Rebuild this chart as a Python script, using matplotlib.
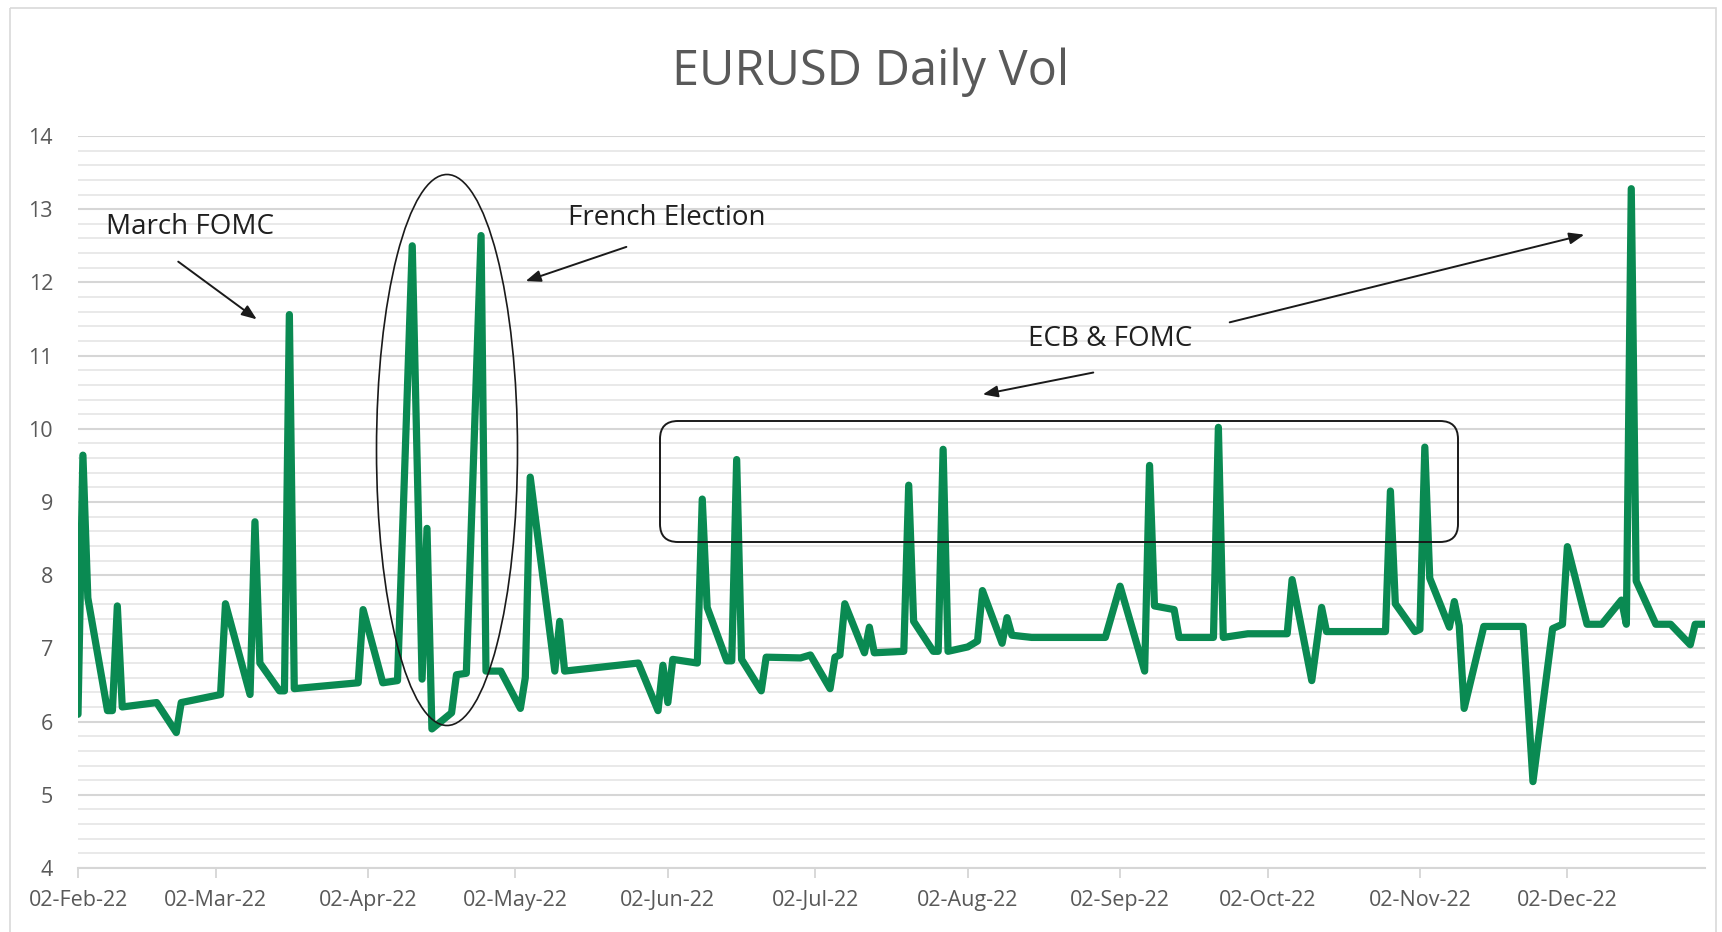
import pandas as pd
import matplotlib.pyplot as plt
import matplotlib.dates as mdates
from matplotlib.ticker import MultipleLocator
from matplotlib.patches import Ellipse, FancyBboxPatch, Rectangle
from matplotlib.transforms import Affine2D

# data
dates = ["2022-02-02", "2022-02-03", "2022-02-04", "2022-02-08", "2022-02-09", "2022-02-10",
         "2022-02-11", "2022-02-18", "2022-02-22", "2022-02-23", "2022-03-03", "2022-03-04",
         "2022-03-09", "2022-03-10", "2022-03-11", "2022-03-15", "2022-03-16", "2022-03-17",
         "2022-03-18", "2022-03-31", "2022-04-01", "2022-04-05", "2022-04-08", "2022-04-11",
         "2022-04-13", "2022-04-14", "2022-04-15", "2022-04-19", "2022-04-20", "2022-04-22",
         "2022-04-25", "2022-04-26", "2022-04-29", "2022-05-03", "2022-05-04", "2022-05-05",
         "2022-05-10", "2022-05-11", "2022-05-12", "2022-05-27", "2022-05-31", "2022-06-01",
         "2022-06-02", "2022-06-03", "2022-06-08", "2022-06-09", "2022-06-10", "2022-06-14",
         "2022-06-15", "2022-06-16", "2022-06-17", "2022-06-21", "2022-06-22", "2022-06-29",
         "2022-07-01", "2022-07-05", "2022-07-06", "2022-07-07", "2022-07-08", "2022-07-12",
         "2022-07-13", "2022-07-14", "2022-07-20", "2022-07-21", "2022-07-22", "2022-07-26",
         "2022-07-27", "2022-07-28", "2022-07-29", "2022-08-02", "2022-08-04", "2022-08-05",
         "2022-08-09", "2022-08-10", "2022-08-11", "2022-08-15", "2022-08-30", "2022-09-02",
         "2022-09-07", "2022-09-08", "2022-09-09", "2022-09-13", "2022-09-14", "2022-09-21",
         "2022-09-22", "2022-09-23", "2022-09-28", "2022-10-06", "2022-10-07", "2022-10-11",
         "2022-10-13", "2022-10-14", "2022-10-26", "2022-10-27", "2022-10-28", "2022-11-01",
         "2022-11-02", "2022-11-03", "2022-11-04", "2022-11-08", "2022-11-09", "2022-11-10",
         "2022-11-11", "2022-11-15", "2022-11-23", "2022-11-25", "2022-11-29", "2022-12-01",
         "2022-12-02", "2022-12-06", "2022-12-09", "2022-12-13", "2022-12-14", "2022-12-15",
         "2022-12-16", "2022-12-20", "2022-12-23", "2022-12-27", "2022-12-28", "2022-12-30"]
vol = [6.10, 9.64, 7.69, 6.15, 6.15, 7.58,
       6.20, 6.26, 5.85, 6.26, 6.37, 7.61,
       6.37, 8.73, 6.80, 6.42, 6.42, 11.56,
       6.45, 6.53, 7.53, 6.53, 6.56, 12.50,
       6.58, 8.64, 5.90, 6.12, 6.64, 6.66,
       12.64, 6.69, 6.69, 6.18, 6.60, 9.34,
       6.69, 7.37, 6.69, 6.80, 6.15, 6.77,
       6.26, 6.85, 6.80, 9.04, 7.56, 6.83,
       6.83, 9.58, 6.85, 6.42, 6.88, 6.87,
       6.91, 6.45, 6.88, 6.91, 7.61, 6.94,
       7.29, 6.94, 6.96, 9.23, 7.37, 6.96,
       6.96, 9.72, 6.96, 7.02, 7.10, 7.79,
       7.07, 7.42, 7.18, 7.15, 7.15, 7.85,
       6.69, 9.50, 7.58, 7.53, 7.15, 7.15,
       10.02, 7.15, 7.20, 7.20, 7.94, 6.56,
       7.56, 7.23, 7.23, 9.15, 7.61, 7.23,
       7.26, 9.75, 7.96, 7.29, 7.64, 7.31,
       6.18, 7.30, 7.30, 5.18, 7.27, 7.33,
       8.39, 7.33, 7.33, 7.66, 7.33, 13.28,
       7.92, 7.33, 7.33, 7.05, 7.33, 7.33]
tick_dates = ["2022-02-02", "2022-03-02", "2022-04-02", "2022-05-02", "2022-06-02", "2022-07-02",
              "2022-08-02", "2022-09-02", "2022-10-02", "2022-11-02", "2022-12-02"]

x = pd.to_datetime(dates)
ticks = pd.to_datetime(tick_dates)

plt.rcParams['font.family'] = ['Open Sans', 'DejaVu Sans']

W, H = 1722, 932
fig = plt.figure(figsize=(W / 100, H / 100), dpi=100)
# reference-pixel coordinates (origin top-left) for the drawn annotations
ref = Affine2D().scale(1 / W, -1 / H).translate(0, 1) + fig.transFigure

# outer chart border
fig.patches.append(Rectangle((10, 8), 1706, 940, transform=ref, fill=False,
                             edgecolor='#d9d9d9', lw=1.2))

ax = fig.add_axes([78 / W, 1 - 868 / H, (1705 - 78) / W, (868 - 136) / H])
ax.plot(x, vol, color='#0a8a52', lw=5.2, solid_joinstyle='round', solid_capstyle='round', zorder=3)

ax.set_xlim(x[0], x[-1])
ax.set_ylim(4, 14)
ax.set_yticks(range(4, 15))
ax.yaxis.set_minor_locator(MultipleLocator(0.2))
ax.grid(which='major', axis='y', color='#d6d6d6', lw=1.5, zorder=0)
ax.grid(which='minor', axis='y', color='#e9e9e9', lw=1.4, zorder=0)
ax.tick_params(axis='y', which='both', length=0, pad=18, labelsize=15.5, labelcolor='#595959')

ax.set_xticks(ticks)
ax.xaxis.set_major_formatter(mdates.DateFormatter('%d-%b-%y'))
ax.tick_params(axis='x', length=7, width=1.3, color='#d6d6d6', pad=9,
               labelsize=15.5, labelcolor='#595959')

for s in ['top', 'right', 'left']:
    ax.spines[s].set_visible(False)
ax.spines['bottom'].set_color('#d6d6d6')
ax.spines['bottom'].set_linewidth(1.5)

fig.text(871 / W, 1 - 72 / H, 'EURUSD Daily Vol', ha='center', va='center',
         fontsize=35, color='#595959')

# annotations
txt = dict(fontsize=20, color='#1f1f1f', ha='center', va='center')
arrow = dict(arrowstyle='-|>,head_length=0.9,head_width=0.35', color='#1a1a1a', lw=1.4)

ax.annotate('March FOMC', xy=(190, 227), xycoords=ref, **txt)
ax.annotate('', xy=(259, 321), xycoords=ref, xytext=(176, 260), textcoords=ref, arrowprops=arrow)

ax.annotate('French Election', xy=(667, 218), xycoords=ref, **txt)
ax.annotate('', xy=(523, 282), xycoords=ref, xytext=(629, 246), textcoords=ref, arrowprops=arrow)
fig.patches.append(Ellipse((447, 450), 141, 551, transform=ref, fill=False,
                           edgecolor='#1a1a1a', lw=1.2, zorder=5))

ax.annotate('ECB & FOMC', xy=(1110, 339), xycoords=ref, **txt)
ax.annotate('', xy=(980, 395), xycoords=ref, xytext=(1096, 372), textcoords=ref, arrowprops=arrow)
ax.annotate('', xy=(1587, 234), xycoords=ref, xytext=(1227, 323), textcoords=ref, arrowprops=arrow)
fig.patches.append(FancyBboxPatch((660, 421), 798, 121, boxstyle='round,pad=0,rounding_size=18',
                                  transform=ref, fill=False, edgecolor='#1a1a1a', lw=1.4, zorder=5))

fig.savefig('out.png', dpi=100)
